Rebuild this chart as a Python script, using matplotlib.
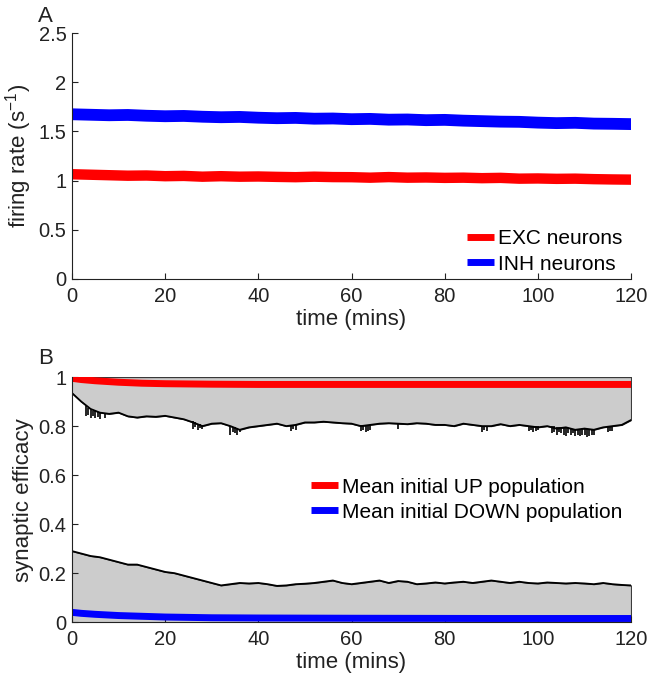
import numpy as np
import matplotlib
matplotlib.use("Agg")
import matplotlib.pyplot as plt

plt.rcParams['font.family'] = ['Liberation Sans', 'DejaVu Sans']
plt.rcParams['mathtext.fontset'] = 'custom'
plt.rcParams['mathtext.rm'] = 'Liberation Sans'
plt.rcParams['mathtext.it'] = 'Liberation Sans:italic'

## Data

# panel A: firing rates (s^-1), every 4 mins
t_rate = list(range(0, 121, 4))
exc_rate = [1.065, 1.06, 1.055, 1.05, 1.052, 1.045, 1.048, 1.04, 1.045, 1.04,
            1.042, 1.038, 1.035, 1.04, 1.036, 1.035, 1.03, 1.036, 1.03, 1.032,
            1.028, 1.03, 1.025, 1.028, 1.02, 1.022, 1.018, 1.02, 1.015, 1.012,
            1.01]
inh_rate = [1.675, 1.67, 1.665, 1.668, 1.66, 1.655, 1.658, 1.65, 1.645, 1.648,
            1.64, 1.635, 1.638, 1.63, 1.632, 1.625, 1.628, 1.62, 1.622, 1.615,
            1.618, 1.61, 1.605, 1.6, 1.598, 1.59, 1.585, 1.588, 1.58, 1.578,
            1.575]

# panel B: range of efficacies (every 2 mins)
t_eff = list(range(0, 121, 2))
up_low = [0.935, 0.90, 0.87, 0.855, 0.85, 0.855, 0.84, 0.835, 0.84, 0.838,
          0.842, 0.835, 0.828, 0.815, 0.80, 0.81, 0.812, 0.80, 0.785, 0.795,
          0.80, 0.805, 0.81, 0.80, 0.805, 0.815, 0.815, 0.818, 0.815, 0.812,
          0.81, 0.80, 0.805, 0.81, 0.812, 0.81, 0.808, 0.812, 0.81, 0.805,
          0.805, 0.80, 0.81, 0.805, 0.80, 0.80, 0.808, 0.80, 0.805, 0.80,
          0.795, 0.80, 0.79, 0.795, 0.785, 0.79, 0.785, 0.795, 0.80, 0.805,
          0.825]
down_high = [0.29, 0.28, 0.27, 0.265, 0.255, 0.245, 0.235, 0.235, 0.225, 0.215,
             0.205, 0.20, 0.19, 0.18, 0.17, 0.16, 0.15, 0.155, 0.16, 0.158,
             0.16, 0.155, 0.148, 0.15, 0.155, 0.157, 0.16, 0.165, 0.17, 0.16,
             0.155, 0.16, 0.165, 0.17, 0.16, 0.168, 0.165, 0.155, 0.158, 0.162,
             0.158, 0.162, 0.165, 0.16, 0.165, 0.17, 0.165, 0.16, 0.165, 0.16,
             0.158, 0.162, 0.16, 0.158, 0.16, 0.158, 0.155, 0.16, 0.155, 0.152,
             0.15]
# downward spikes on the upper curve
spike_t = [3, 3.5, 4, 4.5, 5, 5.5, 6, 7, 26, 26.5, 27, 27.5, 28, 34, 34.5, 35, 35.5, 36,
           47, 47.5, 48, 62, 62.5, 63, 63.5, 64, 70, 88, 88.5, 89, 98, 98.5, 99, 99.5, 100,
           103, 103.5, 104, 104.5, 105, 105.5, 106, 106.5, 107, 107.5, 108, 108.5,
           109, 109.5, 110, 110.5, 111, 111.5, 112, 115, 115.5, 116]
spike_top = [0.88, 0.875, 0.865, 0.862, 0.86, 0.858, 0.855, 0.852, 0.82, 0.815, 0.81, 0.808,
             0.805, 0.80, 0.798, 0.795, 0.792, 0.79, 0.805, 0.805, 0.805,
             0.805, 0.802, 0.80, 0.802, 0.805, 0.81, 0.80, 0.80, 0.80,
             0.80, 0.80, 0.80, 0.80, 0.80, 0.80, 0.80, 0.795, 0.795, 0.795, 0.795,
             0.795, 0.792, 0.79, 0.79, 0.79, 0.788, 0.785, 0.788, 0.79, 0.79, 0.79, 0.788,
             0.785, 0.795, 0.796, 0.798]
spike_bot = [0.84, 0.845, 0.835, 0.84, 0.835, 0.838, 0.83, 0.835, 0.79, 0.795, 0.785, 0.792,
             0.79, 0.765, 0.775, 0.77, 0.765, 0.775, 0.78, 0.79, 0.785,
             0.78, 0.785, 0.775, 0.78, 0.785, 0.79, 0.775, 0.785, 0.78,
             0.78, 0.785, 0.775, 0.78, 0.785, 0.77, 0.775, 0.765, 0.775, 0.77, 0.765,
             0.76, 0.77, 0.765, 0.77, 0.76, 0.765, 0.76, 0.765, 0.765, 0.755, 0.76, 0.765,
             0.765, 0.775, 0.78, 0.78]

# panel B: means
t_mean = [0, 2, 5, 10, 15, 20, 30, 40, 60, 90, 120]
up_mean = [0.995, 0.99, 0.985, 0.979, 0.975, 0.973, 0.971, 0.970, 0.970, 0.970, 0.970]
down_mean = [0.04, 0.036, 0.032, 0.027, 0.024, 0.021, 0.018, 0.017, 0.016, 0.015, 0.015]

xticks = [0, 20, 40, 60, 80, 100, 120]
txt = '#222222'

# PLOTTING
fig = plt.figure(figsize=(6.54, 6.77), dpi=100)
axA = fig.add_axes([0.110, 0.588, 0.855, 0.363])
axB = fig.add_axes([0.110, 0.081, 0.855, 0.362])

# panel A
axA.plot(t_rate, exc_rate, color='#ff0000', lw=7.5, solid_capstyle='butt', label='EXC neurons')
axA.plot(t_rate, inh_rate, color='#0000ff', lw=8.5, solid_capstyle='butt', label='INH neurons')
axA.set_xlim(0, 120)
axA.set_ylim(0, 2.5)
axA.set_yticks([0, 0.5, 1, 1.5, 2, 2.5])
axA.set_yticklabels(['0', '0.5', '1', '1.5', '2', '2.5'])
axA.set_ylabel("firing rate (s$^{-1}$)", fontsize=16, color=txt, labelpad=3)
leg = axA.legend(loc='lower right', bbox_to_anchor=(1.0, -0.012), frameon=False, fontsize=15,
                 handlelength=1.3, handletextpad=0.2, labelspacing=0.3, borderaxespad=0.0)
for l in leg.get_lines():
    l.set_linewidth(5)
axA.text(-0.06, 1.025, 'A', transform=axA.transAxes, fontsize=16, color=txt,
         ha='left', va='bottom')

# panel B
axB.fill_between(t_eff, up_low, 1.0, facecolor='#cccccc', edgecolor='#333333', lw=0.8)
axB.fill_between(t_eff, 0.0, down_high, facecolor='#cccccc', edgecolor='#333333', lw=0.8)
axB.plot(t_eff, up_low, color='k', lw=1.3)
axB.plot(t_eff, down_high, color='k', lw=1.3)
axB.vlines(spike_t, spike_bot, spike_top, color='k', lw=1.2)
axB.plot([120, 120], [up_low[-1], 1.0], color='#333333', lw=0.8)
axB.plot([120, 120], [0, down_high[-1]], color='#333333', lw=0.8)
axB.plot(t_mean, up_mean, color='#ff0000', lw=5, solid_capstyle='butt',
         label='Mean initial UP population')
axB.plot(t_mean, down_mean, color='#0000ff', lw=5, solid_capstyle='butt',
         label='Mean initial DOWN population')
axB.set_xlim(0, 120)
axB.set_ylim(0, 1)
axB.set_yticks([0, 0.2, 0.4, 0.6, 0.8, 1])
axB.set_yticklabels(['0', '0.2', '0.4', '0.6', '0.8', '1'])
axB.set_ylabel("synaptic efficacy", fontsize=16, color=txt, labelpad=3)
axB.legend(loc='center right', bbox_to_anchor=(1.0, 0.5), frameon=False, fontsize=15,
           handlelength=1.3, handletextpad=0.2, labelspacing=0.3, borderaxespad=0.0)
axB.text(-0.06, 1.035, 'B', transform=axB.transAxes, fontsize=16, color=txt,
         ha='left', va='bottom')

for ax in (axA, axB):
    ax.set_xticks(xticks)
    ax.set_xticklabels([str(v) for v in xticks])
    ax.set_xlabel("time (mins)", fontsize=16, color=txt, labelpad=2)
    ax.spines['top'].set_visible(False)
    ax.spines['right'].set_visible(False)
    ax.tick_params(direction='in', length=4, width=0.8, labelsize=14.5, colors=txt)
    ax.tick_params(axis='x', pad=6)
    ax.tick_params(axis='y', pad=4)
    for s in ('left', 'bottom'):
        ax.spines[s].set_linewidth(0.8)
        ax.spines[s].set_color('#222222')

plt.savefig('out.png', dpi=100)
